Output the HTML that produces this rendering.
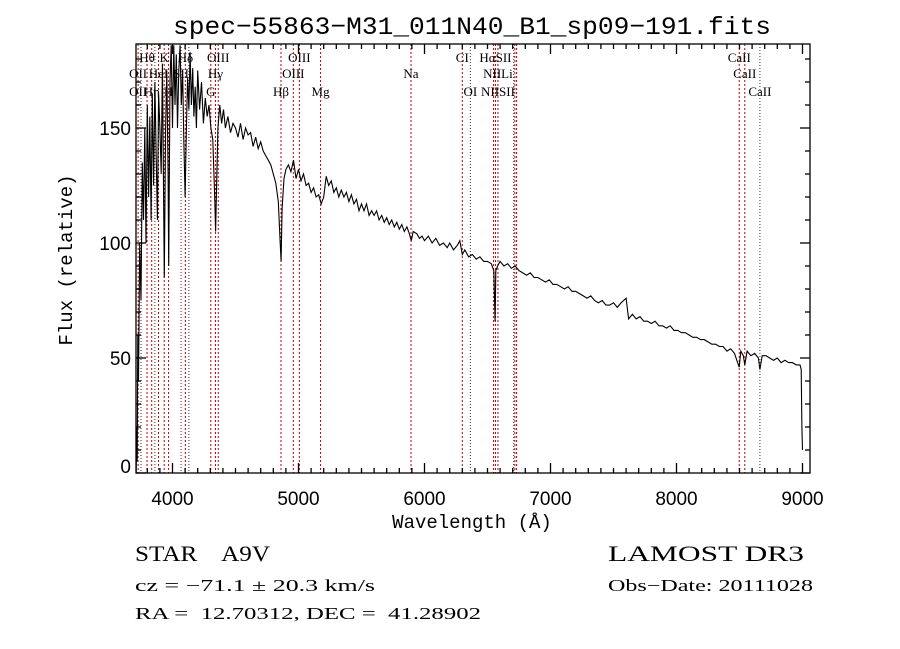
<!DOCTYPE html>
<html><head><meta charset="utf-8"><style>
html,body{margin:0;padding:0;background:#fff;}
svg{display:block;}
text{fill:#000;white-space:pre;}
</style></head><body>
<svg id="chart" width="900" height="649" viewBox="0 0 900 649" xmlns="http://www.w3.org/2000/svg" xml:space="preserve">
<rect width="900" height="649" fill="#fff"/>
<text x="472" y="34" text-anchor="middle" font-family="Liberation Mono, monospace" font-size="25" textLength="598" lengthAdjust="spacingAndGlyphs">spec−55863−M31_011N40_B1_sp09−191.fits</text>
<g id="lines"></g>
<g id="labels"></g>
<path id="spec" fill="none" stroke="#000" stroke-width="1.1"/>
<g id="axes"></g>
<text x="472" y="528" text-anchor="middle" font-family="Liberation Mono, monospace" font-size="19">Wavelength (Å)</text>
<text transform="translate(72,260) rotate(-90)" text-anchor="middle" font-family="Liberation Mono, monospace" font-size="19">Flux (relative)</text>
<text x="135" y="561" font-family="Liberation Serif, serif" font-size="22" textLength="135" lengthAdjust="spacingAndGlyphs">STAR    A9V</text>
<text x="135" y="591" font-family="Liberation Serif, serif" font-size="17" textLength="240" lengthAdjust="spacingAndGlyphs">cz = −71.1 ± 20.3 km/s</text>
<text x="135" y="619" font-family="Liberation Serif, serif" font-size="17" textLength="346" lengthAdjust="spacingAndGlyphs">RA =  12.70312, DEC =  41.28902</text>
<text x="608" y="561" font-family="Liberation Serif, serif" font-size="22" textLength="196" lengthAdjust="spacingAndGlyphs">LAMOST DR3</text>
<text x="608" y="591" font-family="Liberation Serif, serif" font-size="17" textLength="205" lengthAdjust="spacingAndGlyphs">Obs−Date: 20111028</text>
</svg>
<script>
const wavelengths=[3712,3716,3720,3725,3730,3740,3750,3760,3770,3780,3790,3800,3810,3820,3830,3840,3850,3860,3870,3880,3890,3900,3910,3920,3930,3935,3945,3955,3965,3970,3980,3990,4000,4010,4020,4030,4040,4050,4060,4070,4080,4090,4100,4110,4120,4130,4140,4150,4160,4170,4180,4190,4200,4215,4230,4245,4260,4275,4290,4305,4320,4335,4342,4350,4360,4375,4390,4405,4420,4440,4460,4480,4500,4520,4540,4560,4580,4600,4620,4640,4660,4680,4700,4720,4740,4760,4780,4800,4820,4840,4855,4862,4870,4885,4900,4920,4940,4960,4980,5000,5020,5040,5060,5080,5100,5120,5140,5160,5180,5200,5220,5240,5260,5280,5300,5320,5340,5360,5380,5400,5420,5440,5460,5480,5500,5520,5540,5560,5580,5600,5620,5640,5660,5680,5700,5720,5740,5760,5780,5800,5820,5840,5860,5880,5895,5910,5940,5960,5980,6000,6030,6060,6090,6120,6150,6180,6200,6230,6260,6280,6300,6320,6350,6380,6410,6440,6470,6500,6530,6550,6560,6566,6580,6600,6630,6660,6690,6720,6750,6780,6810,6840,6870,6900,6930,6960,6990,7020,7050,7080,7110,7140,7170,7200,7230,7260,7290,7320,7350,7380,7410,7440,7470,7500,7530,7560,7600,7620,7650,7680,7710,7740,7770,7800,7830,7860,7890,7920,7950,7980,8010,8040,8070,8100,8130,8160,8190,8220,8250,8280,8310,8340,8370,8400,8430,8460,8498,8510,8530,8542,8560,8590,8620,8650,8662,8680,8710,8740,8770,8800,8830,8860,8890,8920,8950,8980,8990,8995,9000];
const fluxes=[0,20,5,60,40,100,75,135,110,150,100,160,120,155,110,165,125,170,140,110,165,150,130,178,115,85,150,175,130,90,170,186,150,186,160,182,150,175,186,160,175,145,120,150,172,158,183,160,176,155,168,150,175,158,170,152,163,155,160,150,145,120,105,125,150,160,152,158,150,155,148,152,150,146,152,145,150,147,148,142,146,141,144,140,138,136,134,130,126,118,100,92,115,128,132,134,131,136,128,132,127,130,125,126,122,124,120,121,117,120,129,125,127,122,124,120,123,120,122,118,121,117,119,114,117,114,117,112,114,112,114,110,112,109,111,108,110,107,109,106,108,105,107,104,101,105,104,102,103,101,103,100,102,99,100,98,100,97,99,101,95,97,94,95,93,94,92,92,91,88,66,88,90,92,90,91,89,90,88,87,86,87,85,85,84,83,84,82,82,81,80,81,79,79,78,77,76,77,75,74,75,73,73,74,72,74,76,67,69,67,68,66,66,65,66,64,64,63,64,62,62,61,61,60,59,59,58,58,57,56,56,55,55,53,54,52,46,53,51,47,53,51,52,50,45,51,51,50,49,50,48,49,48,48,47,47,45,20,10];
const redLines=[3727,3798,3835,3889,3934,3969,4102,4304,4341,4363,4861,4959,5007,5175,5893,6300,6548,6563,6583,6717,6731,8498,8542];
const blackLines=[3750,3860,4068,4130,6364,6708,8662];
const labelNames=["Hθ","K","Hδ","OIII","OIII","CI","HαSII","CaII","OII","HeI","SII","Hγ","OIII","Na","NIILi","CaII","OII","Hη","H","G","Hβ","Mg","OI","NIISII","CaII"];
const labelWaves=[3798,3934,4102,4363,5007,6300,6563,8498,3727,3889,4068,4341,4959,5893,6583,8542,3727,3835,3969,4304,4861,5175,6364,6583,8662];
const labelRows=[0,0,0,0,0,0,0,0,1,1,1,1,1,1,1,1,2,2,2,2,2,2,2,2,2];
const xTicks=[4000,5000,6000,7000,8000,9000];
const yTicks=[0,50,100,150];

const L=136,R=810,T=44,B=473;
const X0=4000,PX0=172.5,SX=0.126;
function xs(w){return PX0+(w-X0)*SX;}
function ys(f){return B-f*2.3;}
const NS="http://www.w3.org/2000/svg";
function mk(tag,parent){const e=document.createElementNS(NS,tag);parent.appendChild(e);return e;}

const lg=document.getElementById('lines');
redLines.forEach(w=>{const l=mk('line',lg);


l.setAttribute('x1',xs(w));l.setAttribute('x2',xs(w));l.setAttribute('y1',T);l.setAttribute('y2',B);
l.setAttribute('stroke','#c00000');l.setAttribute('stroke-width','1');l.setAttribute('stroke-dasharray','2,2');});
blackLines.forEach(w=>{const l=mk('line',lg);


l.setAttribute('x1',xs(w));l.setAttribute('x2',xs(w));l.setAttribute('y1',T);l.setAttribute('y2',B);
l.setAttribute('stroke','#333');l.setAttribute('stroke-width','1');l.setAttribute('stroke-dasharray','1,2');});

const lb=document.getElementById('labels');
const rowY=[62,78,96];
labelNames.forEach((n,i)=>{const t=mk('text',lb);


t.setAttribute('x',xs(labelWaves[i]));t.setAttribute('y',rowY[labelRows[i]]);
t.setAttribute('text-anchor','middle');t.setAttribute('font-family','Liberation Serif, serif');t.setAttribute('font-size','13');
t.textContent=n;});

let d='';
wavelengths.forEach((w,i)=>{d+=(i?'L':'M')+xs(w).toFixed(1)+','+Math.max(T,ys(fluxes[i])).toFixed(1);});
document.getElementById('spec').setAttribute('d',d);

const ax=document.getElementById('axes');
const fr=mk('rect',ax);


fr.setAttribute('x',L);fr.setAttribute('y',T);fr.setAttribute('width',R-L);fr.setAttribute('height',B-T);
fr.setAttribute('fill','none');fr.setAttribute('stroke','#000');fr.setAttribute('stroke-width','1.3');
function tick(x1,y1,x2,y2){const l=mk('line',ax);


l.setAttribute('x1',x1);l.setAttribute('y1',y1);l.setAttribute('x2',x2);l.setAttribute('y2',y2);l.setAttribute('stroke','#000');l.setAttribute('stroke-width','1.3');}
for(let w=3800;w<=9000;w+=100){const x=xs(w);if(x<L||x>R)continue;const len=(w%1000===0)?10:5;tick(x,B,x,B-len);tick(x,T,x,T+len);}
for(let f=0;f<=180;f+=10){const y=ys(f);if(y<T)continue;const len=(f%50===0)?10:5;tick(L,y,L+len,y);tick(R,y,R-len,y);}
xTicks.forEach(v=>{const t=mk('text',ax);


t.setAttribute('x',xs(v));t.setAttribute('y',B+32);t.setAttribute('text-anchor','middle');t.setAttribute('font-family','Liberation Sans, sans-serif');t.setAttribute('font-size','19');t.textContent=v;});
yTicks.forEach(v=>{const t=mk('text',ax);


t.setAttribute('x',L-5);t.setAttribute('y',Math.min(ys(v)+7,B));t.setAttribute('text-anchor','end');t.setAttribute('font-family','Liberation Sans, sans-serif');t.setAttribute('font-size','19');t.textContent=v;});
</script>
</body></html>
